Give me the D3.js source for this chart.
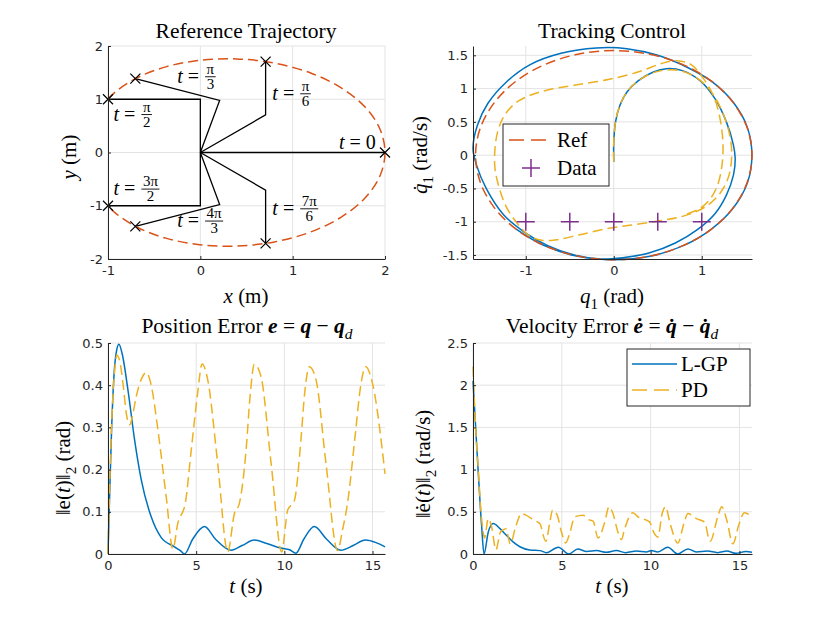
<!DOCTYPE html>
<html>
<head>
<meta charset="utf-8">
<script src="https://cdn.jsdelivr.net/npm/d3@7"></script>
<style>
  body { margin: 0; background: #fff; }
  .serif { font-family: "Liberation Serif", "Times New Roman", serif; fill: #000; }
  .axis text { font-family: "DejaVu Sans", Arial, sans-serif; font-size: 13px; fill: #262626; }
  .axis path, .axis line { stroke: #262626; }
</style>
</head>
<body>
<div id="chart"></div>
<script>
// ---------- data ----------
// reference end-effector path (x, y) in metres
var trajX = [-1, -0.919, -0.685, -0.375, -0.007, 0.394, 0.802, 1.188, 1.522, 1.781, 1.944, 2,
             1.944, 1.781, 1.522, 1.188, 0.802, 0.394, -0.007, -0.375, -0.685, -0.919, -1];
var trajY = [1, 1.139, 1.403, 1.608, 1.731, 1.757, 1.679, 1.497, 1.218, 0.860, 0.445, 0,
             -0.445, -0.860, -1.218, -1.497, -1.679, -1.757, -1.731, -1.608, -1.403, -1.139, -1];

// arm snapshots: elbow and end points, label of time
var armTimes = ["0", "π/6", "π/3", "π/2", "3π/2", "4π/3", "7π/6"];
var elbowX = [1, 0.707, 0.209, 0, 0, 0.209, 0.707];
var elbowY = [0, 0.707, 0.978, 1, -1, -0.978, -0.707];
var endX = [2, 0.707, -0.704, -1, -1, -0.704, 0.707];
var endY = [0, 1.707, 1.387, 1, -1, -1.387, -1.707];

// phase portrait (q1, q1dot)
var refPhase = [[0,1.571],[0.407,1.517],[0.785,1.360],[1.111,1.111],[1.360,0.785],[1.517,0.407],
  [1.571,0],[1.517,-0.407],[1.360,-0.785],[1.111,-1.111],[0.785,-1.360],[0.407,-1.517],
  [0,-1.571],[-0.407,-1.517],[-0.785,-1.360],[-1.111,-1.111],[-1.360,-0.785],[-1.517,-0.407],
  [-1.571,0],[-1.517,0.407],[-1.360,0.785],[-1.111,1.111],[-0.785,1.360],[-0.407,1.517]];

var lgpPhase = [[0,-0.1],[0,0.2],[0.02,0.5],[0.07,0.75],[0.15,0.95],[0.28,1.12],[0.45,1.25],[0.6,1.3],
  [0.78,1.27],[0.98,1.12],[1.15,0.85],[1.28,0.5],[1.36,0.15],[1.38,-0.05],[1.36,-0.3],[1.28,-0.6],
  [1.15,-0.88],[0.95,-1.12],[0.7,-1.32],[0.4,-1.47],[0.1,-1.54],[-0.15,-1.56],[-0.45,-1.5],
  [-0.75,-1.36],[-1.0,-1.17],[-1.25,-0.9],[-1.45,-0.5],[-1.56,-0.15],[-1.6,0.1],[-1.55,0.45],
  [-1.43,0.78],[-1.22,1.1],[-0.95,1.36],[-0.6,1.53],[-0.2,1.61],[0.15,1.6],[0.5,1.5],[0.85,1.31],
  [1.12,1.1],[1.36,0.79],[1.52,0.41],[1.57,0],[1.52,-0.41],[1.36,-0.79],[1.11,-1.11],
  [0.79,-1.36],[0.41,-1.52],[0,-1.57],[-0.41,-1.52],[-0.79,-1.36],[-1.11,-1.11]];

var pdPhase = [[0,-0.1],[0,0.2],[0.02,0.5],[0.07,0.75],[0.15,0.95],[0.28,1.12],[0.45,1.24],[0.6,1.28],
  [0.75,1.27],[0.92,1.18],[1.08,1.0],[1.2,0.75],[1.3,0.4],[1.34,0.05],[1.31,-0.3],[1.22,-0.55],
  [1.1,-0.72],[0.95,-0.84],[0.75,-0.93],[0.5,-0.99],[0.2,-1.05],[-0.1,-1.11],[-0.4,-1.2],
  [-0.65,-1.27],[-0.82,-1.28],[-0.97,-1.2],[-1.1,-1.02],[-1.22,-0.78],[-1.3,-0.5],[-1.35,-0.2],
  [-1.35,0.1],[-1.32,0.35],[-1.25,0.58],[-1.12,0.78],[-0.95,0.9],[-0.75,0.98],[-0.45,1.05],
  [-0.05,1.14],[0.3,1.26],[0.55,1.38],[0.72,1.42],[0.88,1.36],[1.02,1.15],[1.13,0.9],[1.2,0.6],
  [1.24,0.2],[1.23,-0.15],[1.18,-0.45],[1.1,-0.65],[0.98,-0.8],[0.8,-0.9]];

var dataQ = [-1, -0.5, 0, 0.5, 1];
var dataQd = [-1, -1, -1, -1, -1];

// position error norm (t, value)
var posLGP = [[0,0],[0.1,0.15],[0.2,0.29],[0.35,0.43],[0.5,0.485],[0.62,0.497],[0.8,0.475],
  [1.13,0.389],[1.51,0.27],[1.89,0.175],[2.45,0.088],[3.0,0.04],[3.77,0.017],[4.1,0.008],[4.34,0.0],
  [4.8,0.035],[5.47,0.065],[6.1,0.035],[6.98,0.009],[7.6,0.02],[8.3,0.033],[9.0,0.025],[9.81,0.014],
  [10.3,0.01],[10.66,0.002],[11.1,0.035],[11.7,0.065],[12.4,0.035],[13.2,0.009],[13.9,0.02],
  [14.6,0.033],[15.2,0.027],[15.71,0.017]];
var posPD = [[0,0],[0.19,0.29],[0.35,0.42],[0.51,0.471],[0.7,0.45],[0.85,0.404],[1.05,0.33],
  [1.23,0.306],[1.4,0.33],[1.6,0.373],[1.9,0.415],[2.17,0.43],[2.45,0.4],[2.83,0.294],[3.3,0.136],
  [3.68,0.012],[3.96,0.073],[4.38,0.12],[4.72,0.246],[5.06,0.373],[5.34,0.45],[5.66,0.412],
  [6.22,0.215],[6.79,0.005],[7.17,0.096],[7.45,0.12],[7.83,0.246],[8.05,0.37],[8.3,0.45],
  [8.68,0.42],[9.25,0.215],[9.85,0.005],[10.19,0.104],[10.57,0.127],[10.94,0.27],[11.15,0.38],
  [11.42,0.444],[11.8,0.412],[12.36,0.215],[13.02,0.008],[13.3,0.057],[13.58,0.12],[14.05,0.294],
  [14.3,0.39],[14.62,0.444],[15.0,0.404],[15.71,0.19]];

// velocity error norm (t, value)
var velLGP = [[0,2.05],[0.15,1.5],[0.3,0.95],[0.49,0.32],[0.62,0.0],[0.86,0.26],[1.14,0.36],
  [1.52,0.3],[1.89,0.22],[2.27,0.14],[2.64,0.086],[3.2,0.047],[3.77,0.04],[4.14,0.016],[4.8,0.08],
  [5.4,0.0],[5.9,0.06],[6.4,0.03],[6.95,0.04],[7.5,0.02],[8.07,0.04],[8.6,0.016],[9.2,0.035],
  [9.76,0.025],[10.04,0.04],[10.4,0.025],[10.97,0.08],[11.53,0.0],[12.1,0.06],[12.57,0.025],
  [13.2,0.035],[13.78,0.016],[14.3,0.035],[14.8,0.008],[15.37,0.03],[15.71,0.02]];
var velPD = [[0,2.22],[0.1,1.7],[0.2,1.3],[0.3,1.0],[0.43,0.55],[0.55,0.3],[0.65,0.19],[0.86,0.42],
  [1.05,0.32],[1.29,0.05],[1.55,0.26],[1.85,0.3],[2.1,0.12],[2.4,0.32],[2.73,0.48],[2.98,0.46],
  [3.43,0.4],[3.76,0.36],[4.1,0.15],[4.33,0.38],[4.48,0.52],[4.74,0.46],[4.98,0.26],[5.22,0.13],
  [5.45,0.25],[5.73,0.44],[6.2,0.46],[6.48,0.41],[6.76,0.39],[7.04,0.19],[7.42,0.38],[7.66,0.56],
  [7.88,0.48],[8.16,0.26],[8.35,0.17],[8.54,0.3],[9.0,0.49],[9.29,0.44],[9.94,0.38],[10.17,0.26],
  [10.41,0.2],[10.65,0.48],[10.84,0.56],[11.1,0.36],[11.53,0.13],[11.9,0.38],[12.1,0.48],
  [12.57,0.42],[13.03,0.38],[13.35,0.15],[13.78,0.44],[14.0,0.56],[14.29,0.4],[14.63,0.12],
  [14.96,0.34],[15.28,0.49],[15.71,0.44]];

// ---------- set up ----------
var svgWidth = 830, svgHeight = 623;
var blue = "#0072BD", orange = "#D95319", yellow = "#EDB120", purple = "#7E2F8E";
var dash = "10,5";
var labelSize = 21;

var svg = d3.select("#chart").append("svg")
  .attr("width", svgWidth)
  .attr("height", svgHeight);

// make an axes with grid; returns scales + group
function makeAxes(box, xDom, yDom, xTicks, yTicks) {
  var g = svg.append("g").attr("transform", `translate(${box.left}, ${box.top})`);
  var x = d3.scaleLinear().domain(xDom).range([0, box.width]);
  var y = d3.scaleLinear().domain(yDom).range([box.height, 0]);
  g.append("g").selectAll("line").data(xTicks).enter().append("line")
    .attr("x1", d => x(d)).attr("x2", d => x(d))
    .attr("y1", 0).attr("y2", box.height)
    .attr("stroke", "#e3e3e3");
  g.append("g").selectAll("line").data(yTicks).enter().append("line")
    .attr("y1", d => y(d)).attr("y2", d => y(d))
    .attr("x1", 0).attr("x2", box.width)
    .attr("stroke", "#e3e3e3");
  return { g: g, x: x, y: y, box: box, xTicks: xTicks, yTicks: yTicks };
}

function drawAxisLines(a) {
  var fmt = d => String(d);
  a.g.append("g").attr("class", "axis")
    .attr("transform", `translate(0, ${a.box.height})`)
    .call(d3.axisBottom(a.x).tickValues(a.xTicks).tickFormat(fmt)
      .tickSizeInner(-3).tickSizeOuter(0).tickPadding(7))
    .attr("font-size", null).attr("font-family", null);
  a.g.append("g").attr("class", "axis")
    .call(d3.axisLeft(a.y).tickValues(a.yTicks).tickFormat(fmt)
      .tickSizeInner(-3).tickSizeOuter(0).tickPadding(5))
    .attr("font-size", null).attr("font-family", null);
}

// text made of styled pieces
function richText(sel, parts, size) {
  var shift = 0;
  parts.forEach(function(p) {
    var target = p.sub ? size * 0.28 : 0;
    var s = sel.append("tspan").text(p.s).attr("dy", target - shift);
    shift = target;
    if (p.i) s.attr("font-style", "italic");
    if (p.b) s.attr("font-weight", "bold");
    if (p.sub) s.attr("font-size", size * 0.72);
  });
  return sel;
}

function title(cx, y, parts) {
  var t = svg.append("text").attr("class", "serif")
    .attr("x", cx).attr("y", y).attr("text-anchor", "middle").attr("font-size", 21.5);
  richText(t, parts, 21.5);
}

function xLabel(cx, y, parts) {
  var t = svg.append("text").attr("class", "serif")
    .attr("x", cx).attr("y", y).attr("text-anchor", "middle").attr("font-size", labelSize);
  richText(t, parts, labelSize);
}

function yLabel(x, cy, parts) {
  var t = svg.append("text").attr("class", "serif")
    .attr("transform", `translate(${x}, ${cy}) rotate(-90)`)
    .attr("text-anchor", "middle").attr("font-size", labelSize);
  richText(t, parts, labelSize);
}

var lineXY = d3.line().x(d => d[0]).y(d => d[1]);

// ---------- panel 1: reference trajectory ----------
var p1 = makeAxes({ left: 108, top: 46, width: 277, height: 213 }, [-1, 2], [-2, 2],
  [-1, 0, 1, 2], [-2, -1, 0, 1, 2]);

armTimes.forEach(function(lbl, i) {
  p1.g.append("path")
    .attr("d", lineXY([[p1.x(0), p1.y(0)], [p1.x(elbowX[i]), p1.y(elbowY[i])], [p1.x(endX[i]), p1.y(endY[i])]]))
    .attr("fill", "none").attr("stroke", "#000").attr("stroke-width", 1.3);
});

p1.g.append("path")
  .datum(d3.zip(trajX, trajY))
  .attr("d", d3.line().x(d => p1.x(d[0])).y(d => p1.y(d[1])).curve(d3.curveCatmullRom.alpha(0.5)))
  .attr("fill", "none").attr("stroke", orange).attr("stroke-width", 1.5)
  .attr("stroke-dasharray", dash);

p1.g.selectAll(".xmark").data(d3.range(endX.length)).enter().append("path")
  .attr("d", i => {
    var cx = p1.x(endX[i]), cy = p1.y(endY[i]), s = 5;
    return `M${cx - s},${cy - s}L${cx + s},${cy + s}M${cx - s},${cy + s}L${cx + s},${cy - s}`;
  })
  .attr("stroke", "#000").attr("stroke-width", 1.2);

// time labels: [label index, x, y] in data units (left of "t", baseline)
var timeLabelPos = [[1, 0.78, 0.99], [2, -0.25, 1.31], [3, -0.94, 0.6], [4, -0.94, -0.8],
                    [5, -0.25, -1.4], [6, 0.78, -1.17]];
timeLabelPos.forEach(function(tp) {
  var frac = armTimes[tp[0]].split("/");
  var px = p1.x(tp[1]), py = p1.y(tp[2]);
  var t = p1.g.append("text").attr("class", "serif").attr("x", px).attr("y", py).attr("font-size", 20);
  t.append("tspan").attr("font-style", "italic").text("t");
  t.append("tspan").text(" =");
  var w = t.node().getComputedTextLength();
  var num = p1.g.append("text").attr("class", "serif").attr("font-size", 15).attr("text-anchor", "middle").text(frac[0]);
  var den = p1.g.append("text").attr("class", "serif").attr("font-size", 15).attr("text-anchor", "middle").text(frac[1]);
  var fw = Math.max(num.node().getComputedTextLength(), den.node().getComputedTextLength()) + 3;
  var cx = px + w + 6 + fw / 2, bar = py - 6;
  num.attr("x", cx).attr("y", bar - 3);
  den.attr("x", cx).attr("y", bar + 12);
  p1.g.append("line").attr("x1", cx - fw / 2).attr("x2", cx + fw / 2)
    .attr("y1", bar).attr("y2", bar).attr("stroke", "#000").attr("stroke-width", 0.9);
});
var t0 = p1.g.append("text").attr("class", "serif").attr("font-size", 20)
  .attr("x", p1.x(1.9)).attr("y", p1.y(0.07)).attr("text-anchor", "end");
t0.append("tspan").attr("font-style", "italic").text("t");
t0.append("tspan").text(" = " + armTimes[0]);

drawAxisLines(p1);
title(246, 38, [{ s: "Reference Trajectory" }]);
xLabel(246, 303, [{ s: "x", i: true }, { s: " (m)" }]);
yLabel(76, 157, [{ s: "y", i: true }, { s: " (m)" }]);

// ---------- panel 2: tracking control ----------
var p2 = makeAxes({ left: 473, top: 46, width: 279, height: 213 }, [-1.6, 1.571], [-1.56, 1.64],
  [-1, 0, 1], [-1.5, -1, -0.5, 0, 0.5, 1, 1.5]);

var phaseLine = d3.line().x(d => p2.x(d[0])).y(d => p2.y(d[1])).curve(d3.curveCatmullRom.alpha(0.5));

p2.g.append("path").datum(lgpPhase).attr("d", phaseLine)
  .attr("fill", "none").attr("stroke", blue).attr("stroke-width", 1.5);
p2.g.append("path").datum(refPhase)
  .attr("d", d3.line().x(d => p2.x(d[0])).y(d => p2.y(d[1])).curve(d3.curveCatmullRomClosed.alpha(0.5)))
  .attr("fill", "none").attr("stroke", orange).attr("stroke-width", 1.5).attr("stroke-dasharray", dash);
p2.g.append("path").datum(pdPhase).attr("d", phaseLine)
  .attr("fill", "none").attr("stroke", yellow).attr("stroke-width", 1.5).attr("stroke-dasharray", dash);

function plusPath(cx, cy, s) {
  return `M${cx - s},${cy}L${cx + s},${cy}M${cx},${cy - s}L${cx},${cy + s}`;
}
p2.g.selectAll(".plus").data(d3.zip(dataQ, dataQd)).enter().append("path")
  .attr("d", d => plusPath(p2.x(d[0]), p2.y(d[1]), 9))
  .attr("stroke", purple).attr("stroke-width", 1.5);

drawAxisLines(p2);

// legend
var lg2 = svg.append("g");
lg2.append("rect").attr("x", 503).attr("y", 124).attr("width", 106).attr("height", 62)
  .attr("fill", "#fff").attr("stroke", "#262626").attr("stroke-width", 1);
lg2.append("line").attr("x1", 509).attr("x2", 547).attr("y1", 140).attr("y2", 140)
  .attr("stroke", orange).attr("stroke-width", 1.5).attr("stroke-dasharray", "15,7");
lg2.append("text").attr("class", "serif").attr("font-size", 21).attr("x", 557).attr("y", 147).text("Ref");
lg2.append("path").attr("d", plusPath(531, 168, 9)).attr("stroke", purple).attr("stroke-width", 1.5);
lg2.append("text").attr("class", "serif").attr("font-size", 21).attr("x", 557).attr("y", 175).text("Data");

title(612, 38, [{ s: "Tracking Control" }]);
xLabel(612, 303, [{ s: "q", i: true }, { s: "1", sub: true }, { s: " (rad)" }]);
yLabel(427, 155, [{ s: "q\u0307", i: true }, { s: "1", sub: true }, { s: " (rad/s)" }]);

// ---------- panel 3: position error ----------
var p3 = makeAxes({ left: 108, top: 343, width: 277, height: 211 }, [0, 15.708], [0, 0.5],
  [0, 5, 10, 15], [0, 0.1, 0.2, 0.3, 0.4, 0.5]);
var tsLine3 = d3.line().x(d => p3.x(d[0])).y(d => p3.y(d[1])).curve(d3.curveMonotoneX);
p3.g.append("path").datum(posLGP).attr("d", tsLine3)
  .attr("fill", "none").attr("stroke", blue).attr("stroke-width", 1.5);
p3.g.append("path").datum(posPD).attr("d", tsLine3)
  .attr("fill", "none").attr("stroke", yellow).attr("stroke-width", 1.5).attr("stroke-dasharray", dash);
drawAxisLines(p3);

title(247, 333, [{ s: "Position Error " }, { s: "e", i: true, b: true }, { s: " = " },
  { s: "q", i: true, b: true }, { s: " \u2212 " }, { s: "q", i: true, b: true }, { s: "d", i: true, sub: true }]);
xLabel(246, 593, [{ s: "t", i: true }, { s: " (s)" }]);
yLabel(70, 468, [{ s: "\u2016e(" }, { s: "t", i: true }, { s: ")\u2016" }, { s: "2", sub: true }, { s: " (rad)" }]);

// ---------- panel 4: velocity error ----------
var p4 = makeAxes({ left: 473, top: 343, width: 279, height: 211 }, [0, 15.708], [0, 2.5],
  [0, 5, 10, 15], [0, 0.5, 1, 1.5, 2, 2.5]);
var tsLine4 = d3.line().x(d => p4.x(d[0])).y(d => p4.y(d[1])).curve(d3.curveMonotoneX);
p4.g.append("path").datum(velLGP).attr("d", tsLine4)
  .attr("fill", "none").attr("stroke", blue).attr("stroke-width", 1.5);
p4.g.append("path").datum(velPD).attr("d", tsLine4)
  .attr("fill", "none").attr("stroke", yellow).attr("stroke-width", 1.5).attr("stroke-dasharray", dash);
drawAxisLines(p4);

var lg4 = svg.append("g");
lg4.append("rect").attr("x", 627).attr("y", 349).attr("width", 123).attr("height", 57)
  .attr("fill", "#fff").attr("stroke", "#262626").attr("stroke-width", 1);
lg4.append("line").attr("x1", 632).attr("x2", 677).attr("y1", 364).attr("y2", 364)
  .attr("stroke", blue).attr("stroke-width", 1.5);
lg4.append("text").attr("class", "serif").attr("font-size", 21).attr("x", 681).attr("y", 371).text("L-GP");
lg4.append("line").attr("x1", 632).attr("x2", 677).attr("y1", 390).attr("y2", 390)
  .attr("stroke", yellow).attr("stroke-width", 1.5).attr("stroke-dasharray", "15,7");
lg4.append("text").attr("class", "serif").attr("font-size", 21).attr("x", 681).attr("y", 397).text("PD");

title(612, 333, [{ s: "Velocity Error " }, { s: "\u0117", i: true, b: true }, { s: " = " },
  { s: "q\u0307", i: true, b: true }, { s: " \u2212 " }, { s: "q\u0307", i: true, b: true }, { s: "d", i: true, sub: true }]);
xLabel(612, 593, [{ s: "t", i: true }, { s: " (s)" }]);
yLabel(430, 464, [{ s: "\u2016e\u0307(" }, { s: "t", i: true }, { s: ")\u2016" }, { s: "2", sub: true }, { s: " (rad/s)" }]);
</script>
</body>
</html>
